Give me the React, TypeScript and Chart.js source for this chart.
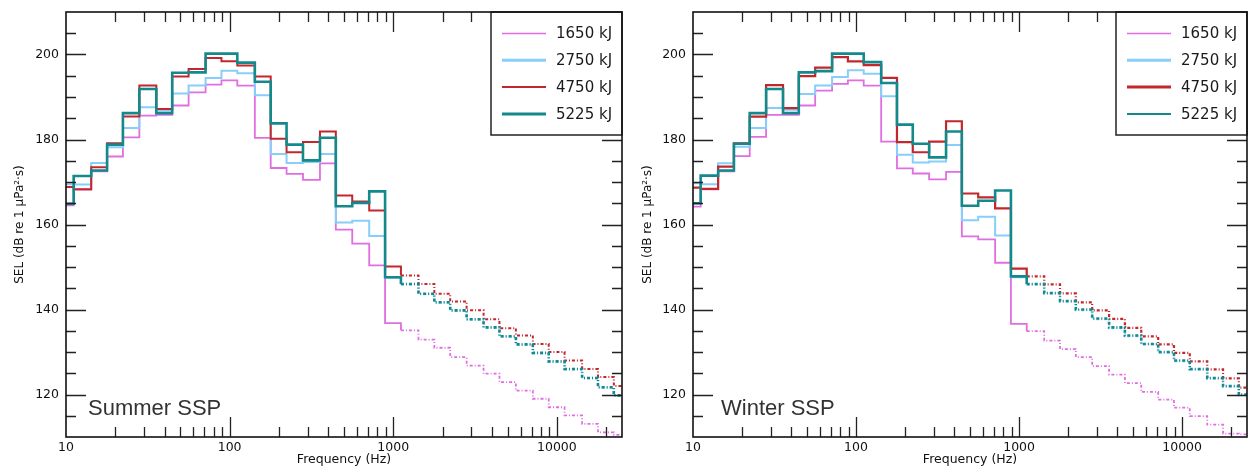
import React, { useEffect, useRef } from 'react';
import { Chart, registerables } from 'chart.js';
Chart.register(...registerables);

// 1/3-octave band centre frequencies (Hz)
const bandCenters = [10, 12.5, 16, 20, 25, 31.5, 40, 50, 63, 80, 100, 125, 160, 200, 250, 315, 400, 500, 630, 800, 1000,
  1250, 1600, 2000, 2500, 3150, 4000, 5000, 6300, 8000, 10000, 12500, 16000, 20000, 25000];

const seriesLabels = ['1650 kJ', '2750 kJ', '4750 kJ', '5225 kJ'];
const seriesColors = ['#e06ee0', '#87cefa', '#c1272d', '#13898b'];

// Summer SSP
const summer1650 = [164.5, 168.2, 172.5, 176.0, 180.5, 185.6, 185.8, 188.0, 191.1, 192.9, 193.9, 192.7, 180.4, 173.3, 171.9, 170.5, 174.4, 158.8, 155.5, 150.4, 136.8,
  135.1, 132.9, 131.0, 128.8, 126.8, 124.9, 122.9, 120.9, 119.0, 117.0, 115.1, 113.1, 111.1, 110.5];
const summer2750 = [169.5, 169.4, 174.5, 178.2, 182.7, 187.6, 186.8, 190.8, 192.7, 194.5, 196.2, 195.6, 190.4, 176.6, 174.5, 174.7, 176.6, 160.5, 160.9, 157.3, 147.5,
  145.9, 143.6, 141.6, 139.7, 137.6, 135.7, 133.6, 131.7, 129.7, 127.7, 125.9, 123.8, 121.6, 119.7];
const summer4750 = [168.8, 168.3, 173.5, 179.1, 185.4, 192.7, 187.2, 194.8, 196.6, 199.2, 198.4, 197.4, 194.8, 180.2, 177.0, 179.4, 181.9, 166.8, 165.4, 163.3, 150.1,
  148.0, 146.0, 143.7, 141.9, 139.8, 137.7, 135.6, 133.9, 131.9, 130.0, 128.0, 126.0, 124.1, 122.0];
const summer5225 = [164.9, 171.4, 172.7, 178.8, 186.2, 191.9, 186.2, 195.7, 195.8, 200.2, 200.2, 198.1, 193.6, 183.8, 178.8, 175.1, 180.4, 164.3, 165.1, 167.8, 147.6,
  146.0, 143.7, 141.7, 139.8, 137.7, 135.8, 133.7, 131.8, 129.8, 127.8, 126.0, 123.9, 121.7, 119.8];

// Winter SSP
const winter1650 = [164.2, 168.3, 172.5, 176.1, 180.6, 185.8, 185.8, 188.0, 191.5, 193.1, 193.9, 192.7, 179.5, 173.2, 172.0, 170.6, 172.4, 157.2, 156.5, 151.0, 136.6,
  134.9, 132.7, 130.7, 128.8, 126.7, 124.7, 122.7, 120.6, 118.8, 116.9, 114.9, 112.9, 110.8, 110.6];
const winter2750 = [169.7, 169.5, 174.4, 178.3, 182.7, 187.4, 187.0, 190.7, 192.7, 194.7, 196.3, 195.5, 190.2, 176.4, 174.6, 174.8, 178.7, 161.0, 161.8, 157.4, 147.6,
  145.8, 143.7, 141.8, 139.8, 137.7, 135.6, 133.7, 131.8, 129.8, 127.8, 125.8, 123.7, 121.8, 119.8];
const winter4750 = [168.7, 168.4, 173.6, 179.1, 185.4, 192.8, 187.4, 194.9, 196.9, 199.4, 198.4, 197.5, 194.5, 179.4, 177.0, 179.5, 184.3, 167.3, 166.4, 163.8, 149.6,
  147.8, 145.9, 143.8, 141.7, 139.8, 137.8, 135.7, 133.7, 131.8, 129.8, 127.8, 125.9, 123.8, 121.6];
const winter5225 = [165.0, 171.5, 172.7, 179.0, 186.2, 191.9, 186.2, 195.8, 196.1, 200.2, 200.2, 198.2, 193.3, 183.5, 179.0, 175.8, 181.9, 164.4, 165.6, 168.0, 147.8,
  146.0, 143.9, 142.0, 140.0, 137.9, 135.8, 133.9, 131.9, 130.0, 128.0, 126.0, 123.9, 122.0, 120.0];

const xMajorTicks = [10, 100, 1000, 10000];
const yMajorTicks = [120, 140, 160, 180, 200];
const X_MIN = 10;
const X_MAX = 25000;
const Y_MIN = 110;
const Y_MAX = 210;
const SOLID_LIMIT = 1000;

const FONT = '"DejaVu Sans", sans-serif';

function stepPoints(values: number[]) {
  const pts = values.map((v, i) => ({ x: Math.max(X_MIN, bandCenters[i] * Math.pow(10, -0.05)), y: v }));
  const last = values.length - 1;
  pts.push({ x: Math.min(X_MAX, bandCenters[last] * Math.pow(10, 0.05)), y: values[last] });
  return pts;
}

type PanelProps = {
  canvasLeft: number;
  canvasWidth: number;
  yAxisWidth: number;
  padRight: number;
  yTitlePad: number;
  label: string;
  labelOffset: number;
  series: number[][];
  widths: number[];
  legendWidths: number[];
};

function Panel(p: PanelProps) {
  const ref = useRef<HTMLCanvasElement | null>(null);
  useEffect(() => {
    if (!ref.current) return;
    const order = [4, 3, 2, 1];
    const datasets = p.series.map((vals, i) => ({
      label: seriesLabels[i],
      data: stepPoints(vals),
      borderColor: seriesColors[i],
      borderWidth: p.widths[i],
      pointRadius: 0,
      stepped: true,
      fill: false,
      order: order[i],
      segment: {
        borderDash: (ctx: any) => (bandCenters[ctx.p0DataIndex] > SOLID_LIMIT ? [3, 2, 1, 2] : undefined),
      },
    }));

    const decor = {
      id: 'decor',
      afterDraw(chart: any) {
        const { ctx, chartArea } = chart;
        const { left, right, top, bottom } = chartArea;
        const xs = chart.scales.x;
        const ys = chart.scales.y;
        ctx.save();
        ctx.strokeStyle = '#222';
        ctx.lineWidth = 1.3;
        ctx.beginPath();
        for (let d = 10; d <= 10000; d *= 10) {
          for (let m = 1; m <= 9; m++) {
            const v = d * m;
            if (v <= X_MIN || v >= X_MAX) continue;
            const px = Math.round(xs.getPixelForValue(v)) + 0.5;
            const len = m === 1 ? 20 : 10;
            ctx.moveTo(px, bottom);
            ctx.lineTo(px, bottom - len);
            ctx.moveTo(px, top);
            ctx.lineTo(px, top + len);
          }
        }
        for (let v = Y_MIN + 5; v < Y_MAX; v += 5) {
          const py = Math.round(ys.getPixelForValue(v)) + 0.5;
          const len = yMajorTicks.includes(v) ? 20 : 10;
          ctx.moveTo(left, py);
          ctx.lineTo(left + len, py);
          ctx.moveTo(right, py);
          ctx.lineTo(right - len, py);
        }
        ctx.stroke();

        // legend
        const lw = 131;
        const lx = right - lw;
        const lh = 123;
        ctx.fillStyle = '#fff';
        ctx.fillRect(lx, top, lw, lh);
        ctx.strokeStyle = '#222';
        ctx.lineWidth = 1.5;
        ctx.strokeRect(lx, top, lw, lh);
        ctx.font = '15px ' + FONT;
        ctx.textBaseline = 'middle';
        ctx.textAlign = 'left';
        for (let i = 0; i < seriesLabels.length; i++) {
          const ry = top + 21.5 + i * 26.8;
          ctx.strokeStyle = seriesColors[i];
          ctx.lineWidth = p.legendWidths[i];
          ctx.beginPath();
          ctx.moveTo(lx + 11, ry);
          ctx.lineTo(lx + 55, ry);
          ctx.stroke();
          ctx.fillStyle = '#1a1a1a';
          ctx.fillText(seriesLabels[i], lx + 65, ry + 1);
        }

        // frame
        ctx.strokeStyle = '#111';
        ctx.lineWidth = 1.6;
        ctx.strokeRect(left, top, right - left, bottom - top);

        // panel label
        ctx.font = '22px "Liberation Sans", Arial, sans-serif';
        ctx.fillStyle = '#333';
        ctx.textBaseline = 'alphabetic';
        ctx.fillText(p.label, left + p.labelOffset, 415);
        ctx.restore();
      },
    };

    const chart = new Chart(ref.current, {
      type: 'line',
      data: { datasets: datasets as any },
      options: {
        responsive: false,
        animation: false,
        maintainAspectRatio: false,
        layout: { padding: { top: 12, right: p.padRight, left: 0, bottom: 0 } },
        plugins: { legend: { display: false }, tooltip: { enabled: false } },
        events: [],
        scales: {
          x: {
            type: 'logarithmic',
            min: X_MIN,
            max: X_MAX,
            afterBuildTicks: (s: any) => {
              s.ticks = xMajorTicks.map((v) => ({ value: v }));
            },
            afterFit: (s: any) => {
              s.height = 31;
              s.paddingLeft = 0;
              s.paddingRight = 0;
            },
            ticks: {
              callback: (v: any) => String(v),
              font: { size: 12.5, family: FONT },
              color: '#111',
              padding: 3,
              maxRotation: 0,
              autoSkip: false,
            },
            grid: { display: false, drawTicks: false },
            border: { display: false },
            title: {
              display: true,
              text: 'Frequency (Hz)',
              font: { size: 12.5, family: FONT },
              color: '#111',
              padding: { top: 0, bottom: 1 },
            },
          },
          y: {
            type: 'linear',
            min: Y_MIN,
            max: Y_MAX,
            afterBuildTicks: (s: any) => {
              s.ticks = yMajorTicks.map((v) => ({ value: v }));
            },
            afterFit: (s: any) => {
              s.width = p.yAxisWidth;
              s.paddingTop = 0;
              s.paddingBottom = 0;
            },
            ticks: {
              font: { size: 12.5, family: FONT },
              color: '#111',
              padding: 7,
            },
            grid: { display: false, drawTicks: false },
            border: { display: false },
            title: {
              display: true,
              text: 'SEL (dB re 1 μPa²·s)',
              font: { size: 12, family: FONT },
              color: '#111',
              padding: { top: p.yTitlePad, bottom: 0 },
            },
          },
        },
      } as any,
      plugins: [decor],
    });
    return () => chart.destroy();
  }, []);
  return (
    <canvas
      ref={ref}
      width={p.canvasWidth}
      height={468}
      style={{ position: 'absolute', left: p.canvasLeft, top: 0, width: p.canvasWidth, height: 468 }}
    />
  );
}

export default function App() {
  return (
    <div style={{ position: 'absolute', left: 0, top: 0, width: 1249, height: 468, background: '#fff', overflow: 'hidden' }}>
      <Panel
        canvasLeft={0}
        canvasWidth={628}
        yAxisWidth={66}
        padRight={6}
        yTitlePad={12.5}
        label="Summer SSP"
        labelOffset={22}
        series={[summer1650, summer2750, summer4750, summer5225]}
        widths={[1.8, 2, 2, 2.6]}
        legendWidths={[1.5, 3, 2, 3]}
      />
      <Panel
        canvasLeft={628}
        canvasWidth={621}
        yAxisWidth={65}
        padRight={2}
        yTitlePad={12.5}
        label="Winter SSP"
        labelOffset={28}
        series={[winter1650, winter2750, winter4750, winter5225]}
        widths={[1.8, 2, 2.2, 2.6]}
        legendWidths={[1.5, 3, 3, 2]}
      />
    </div>
  );
}
